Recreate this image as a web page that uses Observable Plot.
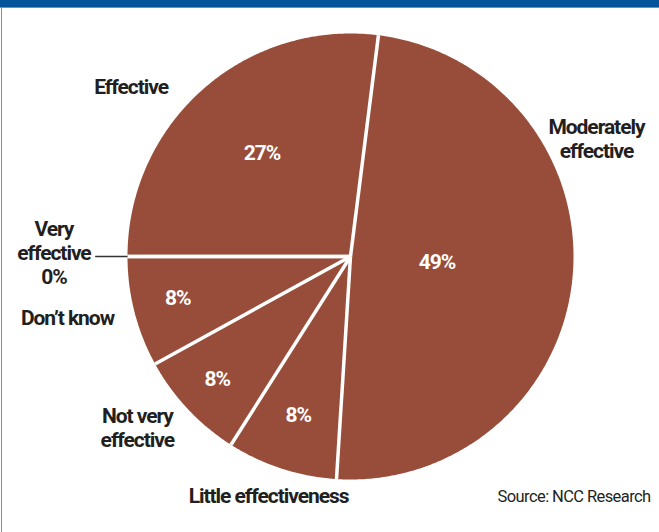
<!DOCTYPE html>
<html>
<head>
<meta charset="utf-8">
<script src="https://cdn.jsdelivr.net/npm/d3@7"></script>
<script src="https://cdn.jsdelivr.net/npm/@observablehq/plot@0.6"></script>
<style>
  html, body { margin: 0; padding: 0; background: #fff; }
  #wrap { position: relative; width: 659px; height: 532px; overflow: hidden; }
  #bar { position: absolute; left: 0; top: 0; width: 659px; height: 7px; background: #02559a; border-bottom: 1px solid #8a8a8a; }
  #lborder { position: absolute; left: 1px; top: 7px; width: 1px; height: 525px; background: #8a8a8a; }
  #chart { position: absolute; left: 0; top: 0; }
  #chart text { letter-spacing: -1.05px; }
  #chart g.caption text { letter-spacing: -0.6px; }
</style>
</head>
<body>
<div id="wrap"><div id="chart"></div><div id="bar"></div><div id="lborder"></div></div>
<script>
// ---- data ----
const categories = ["Very effective", "Effective", "Moderately effective", "Little effectiveness", "Not very effective", "Don't know"];
const values = [0, 27, 49, 8, 8, 8];
const outerLabels = ["Very\neffective\n0%", "Effective", "Moderately\neffective", "Little effectiveness", "Not very\neffective", "Don\u2019t know"];
const pctLabels = ["", "27%", "49%", "8%", "8%", "8%"];
const caption = "Source: NCC Research";

// ---- layout (label placement, polar: degrees clockwise from top, radius in pie radii) ----
const pctRadius = [0, 0.6, 0.39, 0.76, 0.82, 0.8];
const outerAngle = [270, 307.5, 64.7, 198.8, 231, 257.5];
const outerRadius = [1.33, 1.24, 1.22, 1.14, 1.23, 1.30];

const font = "'Liberation Sans Narrow', 'Arial Narrow', 'Roboto', sans-serif";
const sliceColor = "#974d39";
const ink = "#231f20";

const arcs = d3.pie().sort(null).startAngle(-Math.PI / 2).endAngle(3 * Math.PI / 2)(values)
  .map((a, i) => ({...a, cat: categories[i], i}));

const poly = [];
for (const a of arcs) {
  poly.push({cat: a.cat, x: 0, y: 0});
  const n = Math.max(2, Math.ceil((a.endAngle - a.startAngle) / 0.01));
  for (let k = 0; k <= n; k++) {
    const t = a.startAngle + (a.endAngle - a.startAngle) * k / n;
    poly.push({cat: a.cat, x: Math.sin(t), y: Math.cos(t)});
  }
  poly.push({cat: a.cat, x: 0, y: 0});
}

const mid = a => (a.startAngle + a.endAngle) / 2;
const deg = Math.PI / 180;

const chart = Plot.plot({
  width: 659,
  height: 532,
  margin: 0,
  x: {domain: [-1, 1], range: [127, 573], axis: null},
  y: {domain: [-1, 1], range: [479, 33], axis: null},
  marks: [
    Plot.line(poly, {x: "x", y: "y", z: "cat", fill: sliceColor, stroke: null}),
    Plot.link(arcs, {x1: d => 0, y1: d => 0, x2: d => Math.sin(d.startAngle), y2: d => Math.cos(d.startAngle), stroke: "white", strokeWidth: 3.5}),
    Plot.link([arcs[0]], {x1: d => Math.sin(mid(d)) * 1.145, y1: d => Math.cos(mid(d)) * 1.145, x2: d => Math.sin(mid(d)), y2: d => Math.cos(mid(d)), stroke: "#333", strokeWidth: 1.5}),
    Plot.text(arcs.filter(a => a.value > 0), {
      x: d => Math.sin(mid(d)) * pctRadius[d.i], y: d => Math.cos(mid(d)) * pctRadius[d.i], dy: -2.5,
      text: d => pctLabels[d.i], fill: "white", fontFamily: font, fontSize: 21, fontWeight: "bold"
    }),
    Plot.text(arcs, {
      x: d => Math.sin(outerAngle[d.i] * deg) * outerRadius[d.i], y: d => Math.cos(outerAngle[d.i] * deg) * outerRadius[d.i] + (d.i === 0 ? 0.012 : 0), dy: -1.5,
      text: d => outerLabels[d.i], fill: ink, fontFamily: font, fontSize: 21, fontWeight: "bold", lineHeight: 1.13
    }),
    Plot.text([caption], {frameAnchor: "bottom-right", dx: -9, dy: -36, lineAnchor: "middle", fill: ink, fontFamily: font, fontSize: 16.5, className: "caption"})
  ]
});
document.getElementById("chart").appendChild(chart);
</script>
</body>
</html>
